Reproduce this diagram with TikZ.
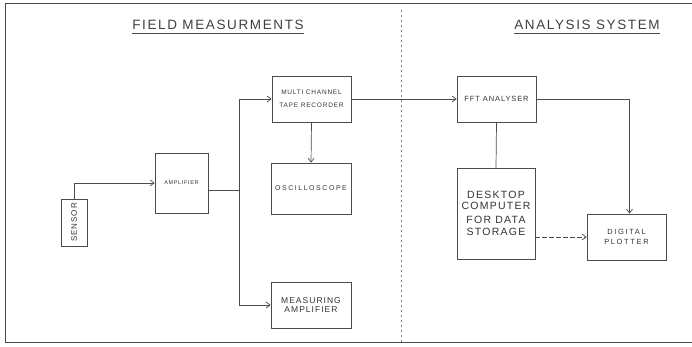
\documentclass[tikz,border=0pt]{standalone}
\usepackage{fontspec}
\setmainfont{Liberation Sans}
\newfontfamily\hand[LetterSpace=12]{Liberation Sans}
\newfontfamily\handwide[LetterSpace=22]{Liberation Sans}
\usetikzlibrary{arrows.meta}
\newcommand{\fs}[1]{\fontsize{#1}{#1}\selectfont}
\begin{document}
\begin{tikzpicture}[x=1pt,y=-1pt,
  ln/.style={draw=black!70,line width=0.7pt},
  blk/.style={ln,rectangle,inner sep=0pt,text=black!80,align=center},
  arr/.style={ln,-{Straight Barb[length=4pt,width=6pt]}},
  ttl/.style={inner sep=0pt,text=black!75}]
\useasboundingbox (0,0) rectangle (692,347);
% frame
\draw[ln,line width=0.9pt] (692,3) -- (5,3) -- (5,342) -- (692,342);
% divider
\draw[draw=black!50,line width=0.5pt,dash pattern=on 2pt off 3pt] (401,10) -- (401,342);
% titles
\node[ttl,font=\hand\fs{13.5}] (t1) at (218,25) {FIELD MEASURMENTS};
\node[ttl,font=\hand\fs{13.5}] (t2) at (587,25) {ANALYSIS SYSTEM};
\draw[ln,line width=0.9pt] ([yshift=-3.5pt]t1.south west) -- ([yshift=-3.5pt]t1.south east);
\draw[ln,line width=0.9pt] ([yshift=-3.5pt]t2.south west) -- ([yshift=-3.5pt]t2.south east);
% blocks
\node[blk,minimum width=26pt,minimum height=47pt] (sensor) at (74,222.5)
  {\rotatebox{90}{\hand\fs{8}SENSOR}};
\node[blk,minimum width=53pt,minimum height=60pt] (amp) at (181.5,183)
  {\hand\fs{5.5}AMPLIFIER};
\node[blk,minimum width=79pt,minimum height=46pt,font=\hand\fs{6.5},align=center] (tape) at (311.5,99)
  {MULTI CHANNEL\\[6pt]TAPE RECORDER};
\node[blk,minimum width=80pt,minimum height=51pt,font=\handwide\fs{7}] (osc) at (311,188.5)
  {OSCILLOSCOPE};
\node[blk,minimum width=80pt,minimum height=46pt,font=\hand\fs{8.5}] (meas) at (311,305)
  {MEASURING\\[1pt]AMPLIFIER};
\node[blk,minimum width=79pt,minimum height=46pt,font=\hand\fs{7.5}] (fft) at (496.5,99)
  {FFT ANALYSER};
\node[blk,minimum width=78pt,minimum height=91pt,font=\hand\fs{10.5}] (desk) at (496,213.5)
  {DESKTOP\\[1pt]COMPUTER\\[3pt]FOR DATA\\[2pt]STORAGE};
\node[blk,minimum width=79pt,minimum height=46pt,font=\handwide\fs{7.5}] (plot) at (626.5,237)
  {DIGITAL\\[2pt]PLOTTER};
% connectors
\draw[arr] (sensor.north) |- (amp.west);
\coordinate (bus) at (239,190);
\draw[ln] (amp.east |- bus) -- (bus);
\draw[arr] (bus) |- (tape.west);
\draw[arr] (bus) |- (meas.west);
\draw[arr] (tape.south) -- (osc.north);
\draw[arr] (tape.east) -- (fft.west);
\draw[ln] (fft.south) -- (desk.north);
\draw[arr] (fft.east) -| ([xshift=3pt]plot.north);
\draw[arr,dash pattern=on 5pt off 2pt] (plot.west -| desk.east) -- (plot.west);
\end{tikzpicture}
\end{document}
